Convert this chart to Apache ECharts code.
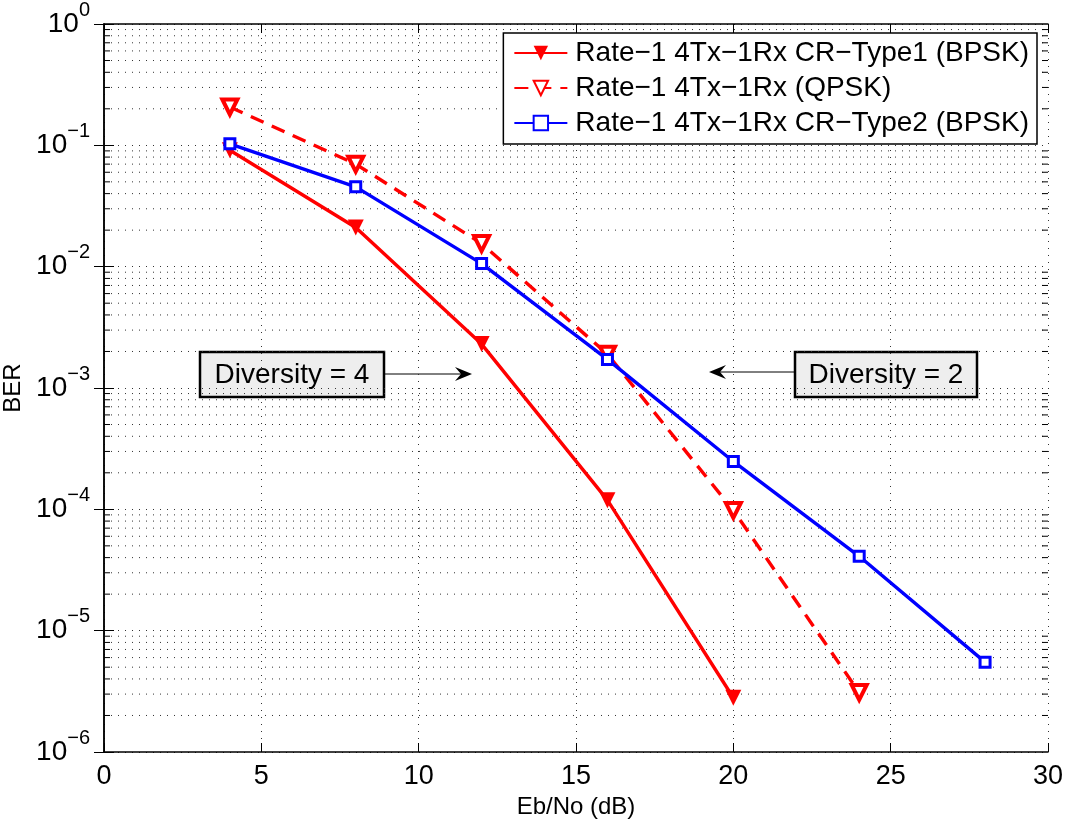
<!DOCTYPE html>
<html>
<head>
<meta charset="utf-8">
<script src="https://cdn.jsdelivr.net/npm/echarts@6/dist/echarts.min.js"></script>
<style>
  html, body { margin: 0; padding: 0; background: #fff; }
  #chart { width: 1070px; height: 823px; }
</style>
</head>
<body>
<div id="chart"></div>
<script>
// Eb/No points (dB) and BER
var ebnoType1 = [4, 8, 12, 16, 20];
var berType1 = [0.091, 0.021, 0.0023, 0.000119, 0.0000028];

var ebnoQpsk = [4, 8, 12, 16, 20, 24];
var berQpsk = [0.207, 0.070, 0.0155, 0.0019, 0.000098, 0.0000031];

var ebnoType2 = [4, 8, 12, 16, 20, 24, 28];
var berType2 = [0.103, 0.0455, 0.0106, 0.00172, 0.000248, 0.000041, 0.0000055];

var seriesNames = [
  'Rate\u22121 4Tx\u22121Rx CR\u2212Type1 (BPSK)',
  'Rate\u22121 4Tx\u22121Rx (QPSK)',
  'Rate\u22121 4Tx\u22121Rx CR\u2212Type2 (BPSK)'
];

// minor grid values of the log axis (2..9 x 10^k)
var minorDecades = [-6, -5, -4, -3, -2, -1];
var minorSteps = [2, 3, 4, 5, 6, 7, 8, 9];

function pairs(xs, ys) {
  return xs.map(function (x, i) { return [x, ys[i]]; });
}

var minorData = [];
minorDecades.forEach(function (k) {
  minorSteps.forEach(function (m) {
    minorData.push([0, m * Math.pow(10, k)]);
  });
});

var font = 'Liberation Sans, Arial, Helvetica, sans-serif';

var chart = echarts.init(document.getElementById('chart'));

function expLabel(v) {
  var e = Math.round(Math.log10(v));
  var s = e < 0 ? '\u2212' + (-e) : '' + e;
  return '{b|10}{s|' + s + '}';
}

var yRich = {
  b: { fontSize: 28, fontFamily: font, color: '#000', lineHeight: 48 },
  s: { fontSize: 20, fontFamily: font, color: '#000', lineHeight: 20, verticalAlign: 'top' }
};

var dotted = { color: '#333', width: 1, type: [1, 6] };

var option = {
  animation: false,
  textStyle: { fontFamily: font },
  grid: { left: 104, right: 22, top: 24, bottom: 71, show: false, outerBoundsMode: 'none', containLabel: false },
  legend: {
    orient: 'vertical',
    right: 33,
    top: 33,
    padding: [5, 8, 6, 10],
    itemGap: 5,
    itemWidth: 53,
    itemHeight: 18,
    backgroundColor: '#fff',
    borderColor: '#000',
    borderWidth: 1.5,
    textStyle: { fontSize: 28, lineHeight: 30, color: '#000', fontFamily: font, padding: [0, 0, 0, 3] },
    data: seriesNames
  },
  xAxis: [
    {
      type: 'value', min: 0, max: 30, interval: 5,
      name: 'Eb/No (dB)', nameLocation: 'middle', nameGap: 41,
      nameTextStyle: { fontSize: 24, color: '#000', fontFamily: font },
      axisLine: { show: true, lineStyle: { color: '#000', width: 1.5 } },
      axisTick: { show: true, inside: true, length: 9, lineStyle: { color: '#000', width: 1 } },
      axisLabel: { fontSize: 27, color: '#000', margin: 11, fontFamily: font },
      splitLine: { show: true, lineStyle: dotted }
    },
    {
      type: 'value', min: 0, max: 30, interval: 5, position: 'top',
      axisLine: { show: true, lineStyle: { color: '#000', width: 1.5 } },
      axisTick: { show: true, inside: true, length: 9, lineStyle: { color: '#000', width: 1 } },
      axisLabel: { show: false },
      splitLine: { show: false }
    }
  ],
  yAxis: [
    {
      type: 'log', logBase: 10, min: 1e-6, max: 1,
      name: 'BER', nameLocation: 'middle', nameGap: 68, nameRotate: 90,
      nameTextStyle: { fontSize: 24, color: '#000', fontFamily: font },
      axisLine: { show: true, lineStyle: { color: '#000', width: 1.5 } },
      axisTick: { show: true, inside: true, length: 10, lineStyle: { color: '#000', width: 1 } },
      axisLabel: { formatter: expLabel, rich: yRich, margin: 14 },
      splitLine: { show: true, lineStyle: dotted }
    },
    {
      type: 'log', logBase: 10, min: 1e-6, max: 1, position: 'right',
      axisLine: { show: true, lineStyle: { color: '#000', width: 1.5 } },
      axisTick: { show: true, inside: true, length: 10, lineStyle: { color: '#000', width: 1 } },
      axisLabel: { show: false },
      splitLine: { show: false }
    }
  ],
  series: [
    {
      // minor log grid + minor ticks on both y edges
      type: 'custom',
      silent: true,
      z: 1,
      data: minorData,
      renderItem: function (params, api) {
        var v = api.value(1);
        var p0 = api.coord([0, v]);
        var p1 = api.coord([30, v]);
        var tick = { stroke: '#000', lineWidth: 1 };
        return {
          type: 'group',
          children: [
            { type: 'line', shape: { x1: p0[0], y1: p0[1], x2: p1[0], y2: p1[1] },
              style: { stroke: '#333', lineWidth: 1, lineDash: [1, 6] } },
            { type: 'line', shape: { x1: p0[0], y1: p0[1], x2: p0[0] + 6, y2: p0[1] }, style: tick },
            { type: 'line', shape: { x1: p1[0] - 6, y1: p1[1], x2: p1[0], y2: p1[1] }, style: tick }
          ]
        };
      }
    },
    {
      name: seriesNames[0],
      type: 'line',
      z: 3,
      data: pairs(ebnoType1, berType1),
      color: '#ff0000',
      lineStyle: { color: '#ff0000', width: 3.4 },
      symbol: 'triangle', symbolRotate: 180, symbolSize: 16,
      itemStyle: { color: '#ff0000' }
    },
    {
      name: seriesNames[1],
      type: 'line',
      z: 3,
      data: pairs(ebnoQpsk, berQpsk),
      color: '#ff0000',
      lineStyle: { color: '#ff0000', width: 3.4, type: [14, 9] },
      symbol: 'triangle', symbolRotate: 180, symbolSize: 15, showAllSymbol: true,
      itemStyle: { color: '#fff', borderColor: '#ff0000', borderWidth: 4 }
    },
    {
      name: seriesNames[2],
      type: 'line',
      z: 4,
      data: pairs(ebnoType2, berType2),
      color: '#0000ff',
      lineStyle: { color: '#0000ff', width: 3.4 },
      symbol: 'rect', symbolSize: 10,
      itemStyle: { color: '#fff', borderColor: '#0000ff', borderWidth: 3 }
    }
  ],
  graphic: [
    {
      type: 'group', z: 100,
      children: [
        { type: 'rect', shape: { x: 200, y: 352, width: 184, height: 45 },
          style: { fill: '#eeeeee', stroke: '#000', lineWidth: 2.5 } },
        { type: 'text', x: 292, y: 375,
          style: { text: 'Diversity = 4', font: '28px ' + font, fill: '#000', align: 'center', verticalAlign: 'middle' } },
        { type: 'line', shape: { x1: 384, y1: 374, x2: 466, y2: 374 }, style: { stroke: '#000', lineWidth: 1 } },
        { type: 'polygon', shape: { points: [[472, 374], [455, 367], [461, 374], [455, 381]] },
          style: { fill: '#000' } },
        { type: 'rect', shape: { x: 795, y: 352, width: 182, height: 45 },
          style: { fill: '#eeeeee', stroke: '#000', lineWidth: 2.5 } },
        { type: 'text', x: 886, y: 375,
          style: { text: 'Diversity = 2', font: '28px ' + font, fill: '#000', align: 'center', verticalAlign: 'middle' } },
        { type: 'line', shape: { x1: 795, y1: 372, x2: 715, y2: 372 }, style: { stroke: '#000', lineWidth: 1 } },
        { type: 'polygon', shape: { points: [[709, 372], [726, 365], [720, 372], [726, 379]] },
          style: { fill: '#000' } }
      ]
    }
  ]
};

chart.setOption(option);
</script>
</body>
</html>
